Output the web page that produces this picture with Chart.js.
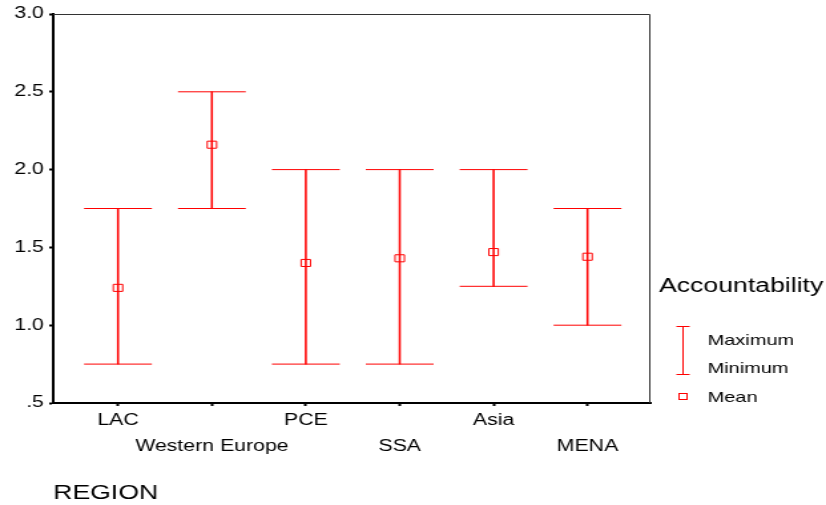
<!DOCTYPE html>
<html>
<head>
<meta charset="utf-8">
<script src="https://cdn.jsdelivr.net/npm/chart.js@4"></script>
<style>
  body { margin: 0; background: #fff; }
  canvas { display: block; }
</style>
</head>
<body>
<!-- the reference is stretched horizontally, so draw narrower and stretch with css -->
<canvas id="grafico" width="621" height="505" style="width:826px;height:505px"></canvas>
<script>
// Datos
var regiones = ['LAC', 'Western Europe', 'PCE', 'SSA', 'Asia', 'MENA'];
var maximos = [1.75, 2.5, 2.0, 2.0, 2.0, 1.75];
var minimos = [0.75, 1.75, 0.75, 0.75, 1.25, 1.0];
var medias = [1.24, 2.16, 1.40, 1.43, 1.47, 1.44];
var marcasY = [0.5, 1.0, 1.5, 2.0, 2.5, 3.0];

var ROJO = '#ff0000';
var FUENTE = '"Liberation Sans", Arial, Helvetica, sans-serif';

// Marco superior y derecho
var marco = {
    id: 'marco',
    afterDraw: function (chart) {
        var ctx = chart.ctx, a = chart.chartArea;
        ctx.save();
        ctx.strokeStyle = '#333';
        ctx.lineWidth = 1;
        ctx.beginPath();
        ctx.moveTo(a.left, a.top + 0.5);
        ctx.lineTo(a.right - 0.5, a.top + 0.5);
        ctx.lineTo(a.right - 0.5, a.bottom);
        ctx.stroke();
        ctx.restore();
    }
};

// Leyenda al estilo SPSS
var leyenda = {
    id: 'leyenda',
    afterDraw: function (chart) {
        var ctx = chart.ctx;
        ctx.save();
        ctx.fillStyle = '#000';
        ctx.textBaseline = 'middle';
        ctx.textAlign = 'left';
        ctx.font = '20px ' + FUENTE;
        ctx.fillText('Accountability', 495.5, 286);

        ctx.strokeStyle = ROJO;
        ctx.lineWidth = 1;
        ctx.beginPath();
        ctx.moveTo(513.5, 326); ctx.lineTo(513.5, 375);
        ctx.moveTo(508.5, 326.5); ctx.lineTo(518.5, 326.5);
        ctx.moveTo(508.5, 374.5); ctx.lineTo(518.5, 374.5);
        ctx.stroke();
        ctx.strokeRect(510.5, 393.5, 6, 6);

        ctx.font = '15px ' + FUENTE;
        ctx.fillText('Maximum', 532, 341);
        ctx.fillText('Minimum', 532, 369);
        ctx.fillText('Mean', 532, 398);
        ctx.restore();
    }
};

var ctx = document.getElementById('grafico').getContext('2d');

var grafico = new Chart(ctx, {
    type: 'bar',
    data: {
        datasets: [{
            type: 'scatter',
            label: 'Mean',
            data: regiones.map(function (r, i) { return { x: i, y: medias[i] }; }),
            pointStyle: 'rect',
            radius: 5,
            backgroundColor: 'transparent',
            borderColor: ROJO,
            borderWidth: 1
        }, {
            type: 'scatter',
            label: 'Maximum',
            data: regiones.map(function (r, i) { return { x: i, y: maximos[i] }; }),
            pointStyle: 'line',
            radius: 25.5,
            borderColor: ROJO,
            borderWidth: 1
        }, {
            type: 'scatter',
            label: 'Minimum',
            data: regiones.map(function (r, i) { return { x: i, y: minimos[i] }; }),
            pointStyle: 'line',
            radius: 25.5,
            borderColor: ROJO,
            borderWidth: 1
        }, {
            type: 'bar',
            label: 'Range',
            data: regiones.map(function (r, i) { return { x: i, y: [minimos[i], maximos[i]] }; }),
            backgroundColor: ROJO,
            borderWidth: 0,
            barThickness: 0.9
        }]
    },
    options: {
        responsive: false,
        devicePixelRatio: 1,
        animation: false,
        layout: { autoPadding: false, padding: { top: 14, right: 132, left: 0, bottom: 0 } },
        plugins: {
            legend: { display: false },
            tooltip: { enabled: false }
        },
        scales: {
            x: {
                type: 'linear',
                min: -0.69,
                max: 5.67,
                offset: false,
                afterBuildTicks: function (s) {
                    s.ticks = regiones.map(function (r, i) { return { value: i }; });
                },
                afterFit: function (s) { s.height = 102; },
                grid: {
                    drawOnChartArea: false,
                    offset: false,
                    tickLength: 3,
                    tickWidth: 2,
                    tickColor: '#000'
                },
                border: { color: '#000', width: 2 },
                ticks: {
                    autoSkip: false,
                    maxRotation: 0,
                    padding: 2,
                    color: '#000',
                    font: { family: FUENTE, size: 16, lineHeight: 1.625 },
                    callback: function (v) {
                        return v % 2 ? ['', regiones[v]] : regiones[v];
                    }
                },
                title: {
                    display: true,
                    text: 'REGION',
                    align: 'start',
                    color: '#000',
                    padding: { top: 0, bottom: 0 },
                    font: { family: FUENTE, size: 20 }
                }
            },
            y: {
                min: 0.5,
                max: 3.0,
                afterBuildTicks: function (s) {
                    s.ticks = marcasY.map(function (v) { return { value: v }; });
                },
                afterFit: function (s) { s.width = 40; },
                grid: {
                    drawOnChartArea: false,
                    tickLength: 3,
                    tickWidth: 2,
                    tickColor: '#000'
                },
                border: { color: '#000', width: 2 },
                ticks: {
                    padding: 4,
                    color: '#000',
                    font: { family: FUENTE, size: 16 },
                    callback: function (v) {
                        return v === 0.5 ? '.5' : v.toFixed(1);
                    }
                }
            }
        }
    },
    plugins: [marco, leyenda]
});
</script>
</body>
</html>
